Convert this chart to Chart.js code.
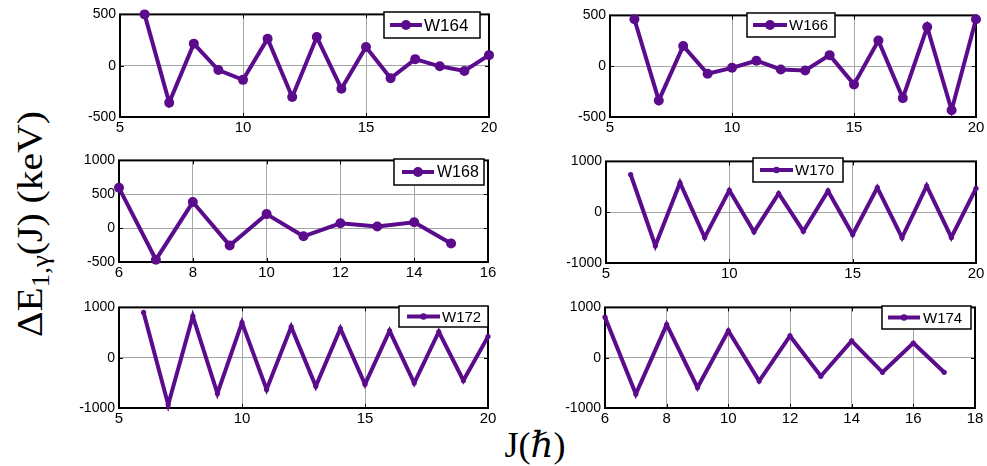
<!DOCTYPE html>
<html>
<head>
<meta charset="utf-8">
<script src="https://cdn.jsdelivr.net/npm/chart.js@4.4.1/dist/chart.umd.min.js"></script>
<style>
  html, body { margin:0; padding:0; background:#fff; }
  #wrap { position:relative; width:987px; height:466px; overflow:hidden; background:#fff; }
  canvas { position:absolute; }
  .rot { position:absolute; width:0; height:0; }
  .lbl { position:absolute; left:0; top:0; white-space:nowrap;
         font-family:"Liberation Serif","DejaVu Serif",serif; color:#000; }
  sub { font-size:0.68em; vertical-align:-0.3em; line-height:0; }
</style>
</head>
<body>
<div id="wrap">
  <div class="rot" style="left:30px; top:224px; transform:rotate(-90deg);">
    <span class="lbl" style="font-size:36px; transform:translate(-50%,-50%) scaleX(1.1);">ΔE<sub>1,γ</sub>(J) (keV)</span>
  </div>
  <div class="rot" style="left:535px; top:445px;">
    <span class="lbl" style="font-size:36px; transform:translate(-50%,-50%);">J(<i>ℏ</i>)</span>
  </div>
</div>
<script>
// ---- data ----
const J164 = [6,7,8,9,10,11,12,13,14,15,16,17,18,19,20];
const W164 = [500,-360,215,-42,-138,263,-305,279,-224,183,-122,64,-6,-51,103];

const J166 = [6,7,8,9,10,11,12,13,14,15,16,17,18,19,20];
const W166 = [462,-337,199,-74,-16,54,-32,-42,109,-179,253,-314,385,-433,462];

const J168 = [6,7,8,9,10,11,12,13,14,15];
const W168 = [595,-466,385,-255,207,-120,72,24,87,-226];

const J170 = [6,7,8,9,10,11,12,13,14,15,16,17,18,19,20];
const W170 = [742,-658,580,-497,432,-387,368,-374,419,-439,484,-503,516,-497,471];

const J172 = [6,7,8,9,10,11,12,13,14,15,16,17,18,19,20];
const W172 = [900,-935,826,-710,697,-632,613,-568,581,-529,535,-503,516,-452,419];

const J174 = [6,7,8,9,10,11,12,13,14,15,16,17];
const W174 = [806,-723,658,-594,535,-465,432,-368,335,-290,290,-290];

// ---- layout / style ----
const PURPLE = 'rgb(91,12,140)';
const panels = [
  { name:'W164', xs:J164, ys:W164, area:[120,12,489,117], xmin:5, xmax:20, xstep:5, ymin:-500, ymax:500, ystep:500, r:5,
    legend:{ box:[384,12,96,26], line:[390,422], text:424, font:17 } },
  { name:'W166', xs:J166, ys:W166, area:[610,13,976,117], xmin:5, xmax:20, xstep:5, ymin:-500, ymax:500, ystep:500, r:5,
    legend:{ box:[747,13,88,24], line:[753,787], text:789, font:15 } },
  { name:'W168', xs:J168, ys:W168, area:[119,158,488,262], xmin:6, xmax:16, xstep:2, ymin:-500, ymax:1000, ystep:500, r:5,
    legend:{ box:[394,159,90,26], line:[402,434], text:437, font:16 } },
  { name:'W170', xs:J170, ys:W170, area:[606,159,976,263], xmin:5, xmax:20, xstep:5, ymin:-1000, ymax:1000, ystep:1000, r:2.6,
    legend:{ box:[753,158,90,24], line:[760,793], text:795, font:15 } },
  { name:'W172', xs:J172, ys:W172, area:[119,305,488,408], xmin:5, xmax:20, xstep:5, ymin:-1000, ymax:1000, ystep:1000, r:2.6,
    legend:{ box:[399,306,89,21], line:[407,440], text:442, font:15 } },
  { name:'W174', xs:J174, ys:W174, area:[605,305,975,408], xmin:6, xmax:18, xstep:2, ymin:-1000, ymax:1000, ystep:1000, r:2.6,
    legend:{ box:[882,306,89,23], line:[888,920], text:923, font:15 } }
];

const PADL = 50, PADT = 10, PADR = 11, PADB = 26;
const wrap = document.getElementById('wrap');

const framePlugin = {
  id:'frame',
  beforeDatasetsDraw(chart) {
    const ctx = chart.ctx, a = chart.chartArea;
    const xs = chart.scales.x, ys = chart.scales.y;
    ctx.save();
    ctx.strokeStyle = '#000';
    ctx.lineWidth = 1;
    ctx.beginPath();
    xs.ticks.forEach(t => {
      const px = Math.round(xs.getPixelForValue(t.value)) + 0.5;
      ctx.moveTo(px, a.bottom); ctx.lineTo(px, a.bottom - 4);
      ctx.moveTo(px, a.top); ctx.lineTo(px, a.top + 4);
    });
    ys.ticks.forEach(t => {
      const py = Math.round(ys.getPixelForValue(t.value)) + 0.5;
      ctx.moveTo(a.left, py); ctx.lineTo(a.left + 4, py);
      ctx.moveTo(a.right, py); ctx.lineTo(a.right - 4, py);
    });
    ctx.stroke();
    ctx.lineWidth = 2;
    ctx.strokeRect(a.left, a.top, a.right - a.left, a.bottom - a.top);
    ctx.restore();
  }
};

const legendPlugin = {
  id:'boxLegend',
  afterDraw(chart) {
    const p = chart.options.plugins.boxLegend;
    if (!p) return;
    const L = p.legend, ox = p.ox, oy = p.oy;
    const ctx = chart.ctx;
    ctx.save();
    const [bx, by, bw, bh] = L.box;
    ctx.fillStyle = '#fff';
    ctx.fillRect(bx - ox, by - oy, bw, bh);
    ctx.strokeStyle = '#000';
    ctx.lineWidth = 1.5;
    ctx.strokeRect(bx - ox, by - oy, bw, bh);
    const cy = by - oy + bh / 2;
    ctx.strokeStyle = PURPLE;
    ctx.lineWidth = 4;
    ctx.beginPath();
    ctx.moveTo(L.line[0] - ox, cy);
    ctx.lineTo(L.line[1] - ox, cy);
    ctx.stroke();
    ctx.fillStyle = PURPLE;
    ctx.beginPath();
    ctx.arc((L.line[0] + L.line[1]) / 2 - ox, cy, p.r, 0, Math.PI * 2);
    ctx.fill();
    ctx.fillStyle = '#000';
    ctx.font = L.font + 'px "Liberation Sans", Arial, sans-serif';
    ctx.textBaseline = 'middle';
    ctx.textAlign = 'left';
    ctx.fillText(p.label, L.text - ox, cy + 1);
    ctx.restore();
  }
};

const plainTick = v => String(v);

panels.forEach(pn => {
  const [L, T, R, B] = pn.area;
  const cx = L - PADL, cy = T - PADT;
  const w = (R - L) + PADL + PADR, h = (B - T) + PADT + PADB;
  const cv = document.createElement('canvas');
  cv.width = w; cv.height = h;
  cv.style.left = cx + 'px'; cv.style.top = cy + 'px';
  cv.style.width = w + 'px'; cv.style.height = h + 'px';
  wrap.appendChild(cv);
  const pts = pn.xs.map((x, i) => ({ x: x, y: pn.ys[i] }));
  new Chart(cv.getContext('2d'), {
    type:'line',
    data:{ datasets:[{
      label: pn.name,
      data: pts,
      borderColor: PURPLE,
      backgroundColor: PURPLE,
      borderWidth: 4,
      pointRadius: pn.r,
      pointHoverRadius: pn.r,
      pointBorderWidth: 0,
      pointBackgroundColor: PURPLE,
      tension: 0,
      clip: false,
      borderJoinStyle: 'miter'
    }]},
    options:{
      responsive:false,
      animation:false,
      devicePixelRatio:1,
      events:[],
      layout:{ padding:{ left:0, top:PADT, right:PADR, bottom:0 } },
      plugins:{
        legend:{ display:false },
        tooltip:{ enabled:false },
        boxLegend:{ legend:pn.legend, ox:cx, oy:cy, r:pn.r + (pn.r < 4 ? 0.6 : 0), label:pn.name }
      },
      scales:{
        x:{
          type:'linear', min:pn.xmin, max:pn.xmax,
          ticks:{ stepSize:pn.xstep, color:'#000', padding:2, maxRotation:0, callback:plainTick,
                  font:{ family:'"Liberation Sans", Arial, sans-serif', size:15 } },
          grid:{ color:'#a6a6a6', lineWidth:1, drawTicks:false },
          border:{ display:false },
          afterFit(s){ s.height = PADB; }
        },
        y:{
          type:'linear', min:pn.ymin, max:pn.ymax,
          ticks:{ stepSize:pn.ystep, color:'#000', padding:4, callback:plainTick,
                  font:{ family:'"Liberation Sans", Arial, sans-serif', size:14 } },
          grid:{ color:'#a6a6a6', lineWidth:1, drawTicks:false },
          border:{ display:false },
          afterFit(s){ s.width = PADL; }
        }
      }
    },
    plugins:[framePlugin, legendPlugin]
  });
});
</script>
</body>
</html>
